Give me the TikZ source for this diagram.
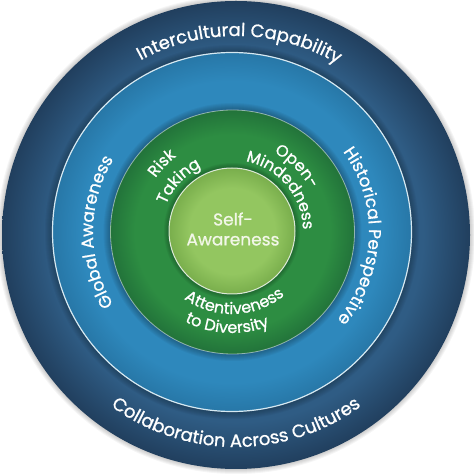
\documentclass[tikz,border=0pt]{standalone}
\usepackage{fontspec}
\newfontfamily\pop{Poppins}[FakeBold=0.9]
\usetikzlibrary{decorations.text}
\definecolor{dkblue}{HTML}{2F5C84}
\definecolor{dkblueedge}{HTML}{213F5E}
\definecolor{midblue}{HTML}{2E88BC}
\definecolor{midblueedge}{HTML}{2777A7}
\definecolor{grn}{HTML}{2D8D42}
\definecolor{grnedge}{HTML}{22733A}
\definecolor{lgrn}{HTML}{93C660}
\definecolor{lgrnedge}{HTML}{79AE4C}
\definecolor{rimline}{HTML}{D6E9F2}
\definecolor{selftext}{HTML}{F2F7E8}
\pgfdeclareradialshading{outerdisc}{\pgfpoint{0bp}{0bp}}{color(0bp)=(dkblue); color(20bp)=(dkblue); color(25bp)=(dkblueedge); color(50bp)=(dkblueedge)}
\pgfdeclareradialshading{middisc}{\pgfpoint{0bp}{0bp}}{color(0bp)=(midblue); color(21bp)=(midblue); color(25bp)=(midblueedge); color(50bp)=(midblueedge)}
\pgfdeclareradialshading{grndisc}{\pgfpoint{0bp}{0bp}}{color(0bp)=(grn); color(20bp)=(grn); color(25bp)=(grnedge); color(50bp)=(grnedge)}
\pgfdeclareradialshading{lgrndisc}{\pgfpoint{0bp}{0bp}}{color(0bp)=(lgrn); color(17bp)=(lgrn); color(25bp)=(lgrnedge); color(50bp)=(lgrnedge)}
\newcommand\fOuter{\pop\fontsize{18}{20}\selectfont}
\newcommand\fMid{\pop\fontsize{17}{19}\selectfont}
\newcommand\fInner{\pop\fontsize{16}{18}\selectfont}
\newcommand\fSelf{\pop\fontsize{17}{20}\selectfont}
\begin{document}
\begin{tikzpicture}[x=1pt,y=1pt,
  arctext/.style={decorate, decoration={text along path, text align=center, text color=white}},
  rim/.style={draw=rimline, line width=1.2pt}]
\useasboundingbox (0,0) rectangle (474,474);
\fill[white] (0,0) rectangle (474,474);
\coordinate (Oc) at (236,239);
\coordinate (Mc) at (232,242);
\coordinate (Gc) at (232.5,242);
\coordinate (Lc) at (232,243);
% outer halo
\foreach \i in {1,...,6} \fill[black, opacity=0.04] (Oc) circle (233+\i);
% outer disc
\shade[shading=outerdisc] (Oc) circle (234);
% shadow of mid disc
\foreach \i in {1,...,8} \fill[black, opacity=0.035] (Mc) circle (179+\i);
\shade[shading=middisc] (Mc) circle (179.5);
\draw[rim] (Mc) circle (179.5);
% shadow of green disc
\foreach \i in {1,...,8} \fill[black, opacity=0.04] (Gc) circle (121+\i);
\shade[shading=grndisc] (Gc) circle (122);
\draw[draw=white, opacity=0.5, line width=0.8pt] (Gc) circle (122);
% light green disc
\foreach \i in {1,...,6} \fill[black, opacity=0.05] (Lc) circle (62+\i);
\shade[shading=lgrndisc] (Lc) circle (63);
\draw[draw=white, opacity=0.8, line width=1pt] (Lc) circle (63);
% outer ring texts
\path[arctext, decoration={text={|\fOuter|Intercultural Capability}}]
  (Oc) ++(129:199) arc[start angle=129, end angle=49, radius=199];
\path[arctext, decoration={text={|\fOuter|Collaboration Across Cultures}}]
  (Oc) ++(215:212) arc[start angle=215, end angle=325, radius=212];
% middle ring texts
\path[arctext, decoration={text={|\fMid|Global Awareness}}]
  (Mc) ++(230:139) arc[start angle=230, end angle=130, radius=139];
\path[arctext, decoration={text={|\fMid|Historical Perspective}}]
  (Mc) ++(55:137) arc[start angle=55, end angle=-59, radius=137];
% green ring texts
\path[arctext, decoration={text={|\fInner|Risk}}]
  (Lc) ++(170:93) arc[start angle=170, end angle=102, radius=93];
\path[arctext, decoration={text={|\fInner|Taking}}]
  (Lc) ++(177:71) arc[start angle=177, end angle=97, radius=71];
\path[arctext, decoration={text={|\fInner|Open-}}]
  (Lc) ++(82:89) arc[start angle=82, end angle=8, radius=89];
\path[arctext, decoration={text={|\fInner|Mindedness}}]
  (Lc) ++(100:71) arc[start angle=100, end angle=-20, radius=71];
\path[arctext, decoration={text={|\fInner|Attentiveness}}]
  (Lc) ++(-150:83) arc[start angle=-150, end angle=-26, radius=83];
\path[arctext, decoration={text={|\fInner|to Diversity}}]
  (Lc) ++(-150:102) arc[start angle=-150, end angle=-36, radius=102];
% centre text
\node[align=center, text=selftext, font=\fSelf, inner sep=0pt] (self) at (233,245) {Self-\\Awareness};
\end{tikzpicture}
\end{document}
